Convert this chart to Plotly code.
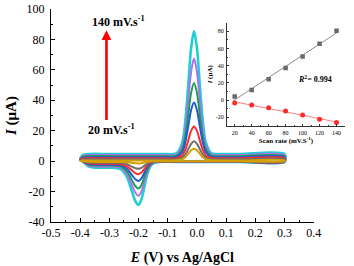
import plotly.graph_objects as go
import numpy as np

# ---------------- data ----------------
scan_rates = [20, 40, 60, 80, 100, 120, 140]

E_fwd = [-0.400, -0.390, -0.370, -0.300, -0.200, -0.120, -0.070, -0.050, -0.040, -0.030,
         -0.020, -0.010, 0.000, 0.010, 0.020, 0.030, 0.050, 0.080, 0.150, 0.300]
E_rev = [0.300, 0.150, 0.050, -0.050, -0.130, -0.150, -0.160, -0.170, -0.180, -0.190,
         -0.200, -0.210, -0.220, -0.230, -0.240, -0.260, -0.280, -0.340, -0.370, -0.390, -0.400]

i_fwd_20 = [0.2, 0.45, 0.5, 0.5, 0.5, 0.5, 0.54, 1.25, 2.56, 4.8, 7.15, 8.2, 7.15, 4.8, 2.56, 1.25, 0.54, 0.5, 0.5, 0.5]
i_fwd_40 = [0.4, 1.05, 1.2, 1.2, 1.2, 1.2, 1.26, 2.34, 4.36, 7.78, 11.4, 13.0, 11.4, 7.78, 4.36, 2.34, 1.26, 1.2, 1.2, 1.2]
i_fwd_60 = [0.6, 1.7, 1.9, 1.9, 1.9, 1.9, 2.0, 3.92, 7.47, 13.5, 19.87, 22.7, 19.87, 13.5, 7.47, 3.92, 2.0, 1.9, 1.9, 1.9]
i_fwd_80 = [0.8, 2.3, 2.6, 2.6, 2.6, 2.6, 2.78, 6.08, 12.22, 22.63, 33.62, 38.5, 33.62, 22.63, 12.22, 6.08, 2.78, 2.6, 2.6, 2.6]
i_fwd_100 = [1.0, 2.9, 3.3, 3.3, 3.3, 3.3, 3.54, 7.97, 16.19, 30.14, 44.86, 51.4, 44.86, 30.14, 16.19, 7.97, 3.54, 3.3, 3.3, 3.3]
i_fwd_120 = [1.2, 3.5, 4.0, 4.0, 4.0, 4.0, 4.32, 10.15, 20.99, 39.38, 58.78, 67.4, 58.78, 39.38, 20.99, 10.15, 4.32, 4.0, 4.0, 4.0]
i_fwd_140 = [1.5, 4.1, 4.7, 4.7, 4.7, 4.7, 5.1, 12.52, 26.3, 49.67, 74.34, 85.3, 74.34, 49.67, 26.3, 12.52, 5.1, 4.7, 4.7, 4.7]

i_rev_20 = [-0.1, -0.1, -0.1, -0.1, -0.1, -0.14, -0.25, -0.5, -0.91, -1.32, -1.5, -1.42, -1.21, -0.96, -0.75, -0.54, -0.5, -0.5, -0.4, 0.0, 0.2]
i_rev_40 = [-0.2, -0.2, -0.2, -0.2, -0.2, -0.36, -0.75, -1.6, -2.97, -4.38, -5.0, -4.68, -3.86, -2.89, -2.07, -1.27, -1.12, -1.1, -0.9, 0.0, 0.4]
i_rev_60 = [-0.3, -0.3, -0.3, -0.3, -0.31, -0.56, -1.2, -2.68, -5.07, -7.52, -8.6, -8.03, -6.58, -4.86, -3.42, -2.0, -1.73, -1.7, -1.4, -0.1, 0.6]
i_rev_80 = [-0.35, -0.35, -0.35, -0.35, -0.36, -0.75, -1.74, -3.98, -7.6, -11.33, -13.0, -12.11, -9.86, -7.2, -4.96, -2.77, -2.34, -2.3, -1.9, -0.2, 0.8]
i_rev_100 = [-0.4, -0.4, -0.4, -0.4, -0.42, -0.94, -2.3, -5.42, -10.42, -15.6, -17.9, -16.66, -13.5, -9.77, -6.64, -3.56, -2.96, -2.9, -2.4, -0.3, 1.0]
i_rev_120 = [-0.45, -0.45, -0.45, -0.45, -0.47, -1.15, -2.88, -6.83, -13.18, -19.83, -22.7, -21.11, -17.1, -12.35, -8.36, -4.44, -3.68, -3.6, -3.0, -0.4, 1.2]
i_rev_140 = [-0.5, -0.5, -0.5, -0.5, -0.53, -1.39, -3.6, -8.6, -16.65, -25.0, -28.7, -26.67, -21.55, -15.48, -10.38, -5.37, -4.4, -4.3, -3.6, -0.5, 1.5]

inset_rates = [20, 40, 60, 80, 100, 120, 140]
ipa = [4.2, 11.7, 24.2, 37.2, 50.8, 65.6, 80.7]
ipc = [-3.4, -5.7, -9.1, -12.8, -17.4, -22.4, -26.1]
r2_text = "0.994"

x_ticks = [-0.5, -0.4, -0.3, -0.2, -0.1, 0.0, 0.1, 0.2, 0.3, 0.4]
y_ticks = [-40, -20, 0, 20, 40, 60, 80, 100]
inset_x_ticks = [20, 40, 60, 80, 100, 120, 140]
inset_y_ticks = [-20, 0, 20, 40, 60, 80]

# ---------------- styling ----------------
FONT = "Liberation Serif"
colors = ["#D2A000", "#6E6E6E", "#FF2A2A", "#1F5BD6", "#1E9E55", "#B070E8", "#1ECFD6"]
widths = [2, 2, 2, 2, 2, 2, 2.6]

fwd = [i_fwd_20, i_fwd_40, i_fwd_60, i_fwd_80, i_fwd_100, i_fwd_120, i_fwd_140]
rev = [i_rev_20, i_rev_40, i_rev_60, i_rev_80, i_rev_100, i_rev_120, i_rev_140]

fig = go.Figure()
# highest scan rate drawn first so the low-rate curves show on top in the baseline band
for v, f, r, c, w in reversed(list(zip(scan_rates, fwd, rev, colors, widths))):
    fig.add_trace(go.Scatter(
        x=E_fwd + E_rev, y=f + r, mode="lines", name=f"{v} mV/s",
        line=dict(color=c, width=w, shape="spline", smoothing=0.8),
        xaxis="x", yaxis="y", showlegend=False))

# inset: fit lines
xr = np.array(inset_rates, dtype=float)
xl = np.array([18.0, 142.0])
pa = np.polyfit(xr, ipa, 1)
pc = np.polyfit(xr, ipc, 1)
fig.add_trace(go.Scatter(x=xl, y=np.polyval(pa, xl), mode="lines",
                         line=dict(color="#8C8C8C", width=1), xaxis="x2", yaxis="y2", showlegend=False))
fig.add_trace(go.Scatter(x=xl, y=np.polyval(pc, xl), mode="lines",
                         line=dict(color="#FF8080", width=1), xaxis="x2", yaxis="y2", showlegend=False))
fig.add_trace(go.Scatter(x=inset_rates, y=ipa, mode="markers",
                         marker=dict(symbol="square", size=4.5, color="#6A6A6A"),
                         xaxis="x2", yaxis="y2", showlegend=False))
fig.add_trace(go.Scatter(x=inset_rates, y=ipc, mode="markers",
                         marker=dict(symbol="circle", size=5, color="#FF2A2A"),
                         xaxis="x2", yaxis="y2", showlegend=False))

def lab(v, nd):
    return f"{v:.{nd}f}".replace("\u2212", "-")

PLOT_H = 216.0
main_w = 269.0 / 301.0
fig.update_layout(
    width=354, height=266,
    margin=dict(l=51, r=2, t=6, b=44),
    paper_bgcolor="white", plot_bgcolor="rgba(0,0,0,0)",
    font=dict(family=FONT, color="black"),
    xaxis=dict(domain=[0, main_w], range=[-0.5, 0.4001], showgrid=False, zeroline=False,
               showline=True, linecolor="black", linewidth=1,
               tickvals=x_ticks, ticktext=[lab(v, 1) for v in x_ticks],
               ticks="inside", ticklen=4, tickcolor="black", ticklabeloverflow="allow",
               minor=dict(dtick=0.05, ticks="inside", ticklen=2, tickcolor="black"),
               tickfont=dict(size=12, family=FONT),
               title=dict(text="<b><i>E</i> (V) vs Ag/AgCl</b>", font=dict(size=14, family=FONT), standoff=14),
               anchor="y"),
    yaxis=dict(domain=[0, 1], range=[-40, 100.01], showgrid=False, zeroline=False,
               showline=True, linecolor="black", linewidth=1,
               tickvals=y_ticks, ticktext=[lab(v, 0) for v in y_ticks],
               ticks="inside", ticklen=4, tickcolor="black", ticklabeloverflow="allow",
               minor=dict(dtick=10, ticks="inside", ticklen=2, tickcolor="black"),
               tickfont=dict(size=12, family=FONT), ticklabelstandoff=3,
               title=dict(text="<b><i>I</i> (μA)</b>", font=dict(size=15, family=FONT), standoff=6),
               anchor="x"),
    xaxis2=dict(domain=[(231 - 51) / 301.0, 1.0], range=[10.7, 150], showgrid=False, zeroline=False,
                showline=True, linecolor="#333333", linewidth=0.8,
                tickvals=inset_x_ticks, ticktext=[str(v) for v in inset_x_ticks],
                ticks="inside", ticklen=2, tickcolor="#333333", ticklabeloverflow="allow",
                minor=dict(dtick=10, ticks="inside", ticklen=1, tickcolor="#333333"),
                tickfont=dict(size=6, family=FONT), ticklabelstandoff=1,
                title=dict(text="<b>Scan rate (mV.S<sup>-1</sup>)</b>", font=dict(size=7, family=FONT), standoff=2),
                anchor="y2"),
    yaxis2=dict(domain=[(222 - 124.4) / PLOT_H, (222 - 20) / PLOT_H], range=[-30, 90], showgrid=False,
                zeroline=False, showline=True, linecolor="#333333", linewidth=0.8,
                tickvals=inset_y_ticks, ticktext=[lab(v, 0) for v in inset_y_ticks],
                ticks="inside", ticklen=2, tickcolor="#333333", ticklabeloverflow="allow",
                minor=dict(dtick=10, ticks="inside", ticklen=1, tickcolor="#333333"),
                tickfont=dict(size=6, family=FONT), ticklabelstandoff=1,
                title=dict(text="<b><i>I</i> (μA)</b>", font=dict(size=7, family=FONT), standoff=2),
                anchor="x2"),
    annotations=[
        dict(x=-0.31, y=86, ax=-0.31, ay=26, xref="x", yref="y", axref="x", ayref="y",
             text="", showarrow=True, arrowhead=2, arrowsize=0.75, arrowwidth=2.6, arrowcolor="#FF0000"),
        dict(x=-0.27, y=92, xref="x", yref="y", text="<b>140 mV.s<sup>-1</sup></b>",
             showarrow=False, font=dict(size=12, family=FONT, color="black")),
        dict(x=-0.293, y=20.7, xref="x", yref="y", text="<b>20 mV.s<sup>-1</sup></b>",
             showarrow=False, font=dict(size=12, family=FONT, color="black")),
        dict(x=115, y=25, xref="x2", yref="y2", text="<b><i>R</i><sup>2</sup>= " + r2_text + "</b>",
             showarrow=False, font=dict(size=8, family=FONT, color="black")),
    ],
)

# remove the browser's default 8px body margin so the figure fills the window exactly
fig.write_html("out.html", config={"displayModeBar": False},
               post_script="document.body.style.margin='0';")
